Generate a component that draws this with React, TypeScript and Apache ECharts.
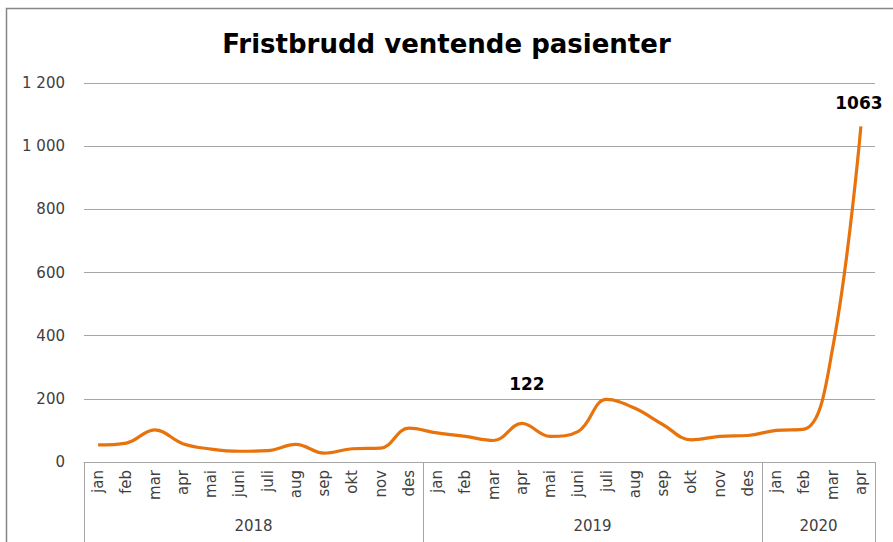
import React, { useEffect, useRef } from "react";
import * as echarts from "echarts";

const months = [
  "jan", "feb", "mar", "apr", "mai", "juni", "juli", "aug", "sep", "okt", "nov", "des",
  "jan", "feb", "mar", "apr", "mai", "juni", "juli", "aug", "sep", "okt", "nov", "des",
  "jan", "feb", "mar", "apr",
];
const values = [
  54, 60, 102, 58, 41, 34, 36, 56, 28, 42, 44, 107,
  92, 81, 68, 122, 81, 97, 198, 170, 118, 70, 81, 84,
  100, 104, 360, 1063,
];
const years = ["2018", "2019", "2020"];
const monthsPerYear = [12, 12, 4];
const labelledIndex = [15, 27];
const labelDistance = [30, 14];
const yTicks = [0, 200, 400, 600, 800, 1000, 1200];

const FONT = "DejaVu Sans";

export default function App() {
  const ref = useRef<HTMLDivElement>(null);
  useEffect(() => {
    if (!ref.current) return;
    const chart = echarts.init(ref.current, undefined, { renderer: "svg" });
    const bounds: number[] = [0];
    const centers: number[] = [];
    monthsPerYear.forEach((n) => {
      const start = bounds[bounds.length - 1];
      centers.push(start + n / 2);
      bounds.push(start + n);
    });
    const labelData = labelledIndex.map((i, k) => ({
      value: [i, values[i]],
      label: {
        show: true,
        position: "top",
        distance: labelDistance[k],
        offset: [k === 0 ? 5 : -2, 0],
        formatter: String(values[i]),
        fontFamily: FONT,
        fontWeight: "bold",
        fontSize: 17,
        color: "#000000",
        opacity: 1,
        textBorderWidth: 0,
      },
    }));
    chart.setOption({
      animation: false,
      backgroundColor: "#fff",
      title: {
        text: "Fristbrudd ventende pasienter",
        left: "center",
        top: 26,
        textStyle: { fontFamily: FONT, fontWeight: "bold", fontSize: 26, color: "#000" },
      },
      graphic: [
        {
          type: "rect",
          shape: { x: 6.5, y: 8.5, width: 1000, height: 1000 },
          style: { fill: "none", stroke: "#868686", lineWidth: 1.5 },
          silent: true,
        },
      ],
      grid: { left: 84, right: 18, top: 83, bottom: 80, containLabel: false },
      xAxis: [
        {
          type: "category",
          data: months,
          boundaryGap: true,
          position: "bottom",
          axisLine: { show: true, lineStyle: { color: "#a6a6a6", width: 1 } },
          axisTick: { show: false },
          axisLabel: {
            interval: 0,
            rotate: 90,
            margin: 8,
            fontFamily: FONT,
            fontSize: 15,
            color: "#404040",
          },
        },
        {
          type: "value",
          min: 0,
          max: months.length,
          position: "bottom",
          axisLine: { show: false },
          splitLine: { show: false },
          axisTick: {
            show: true,
            customValues: bounds,
            length: 80,
            lineStyle: { color: "#a6a6a6", width: 1 },
          },
          axisLabel: {
            show: true,
            customValues: centers,
            margin: 56,
            fontFamily: FONT,
            fontSize: 15,
            color: "#404040",
            formatter: (v: number) => {
              const idx = centers.indexOf(v);
              return idx >= 0 ? years[idx] : "";
            },
          },
        },
      ],
      yAxis: {
        type: "value",
        min: yTicks[0],
        max: yTicks[yTicks.length - 1],
        interval: 200,
        axisLine: { show: false },
        axisTick: { show: false },
        splitLine: { lineStyle: { color: "#a6a6a6", width: 1 } },
        axisLabel: {
          margin: 19,
          fontFamily: FONT,
          fontSize: 15,
          color: "#404040",
          formatter: (v: number) => String(v).replace(/\B(?=(\d{3})+(?!\d))/g, " "),
        },
      },
      series: [
        {
          type: "line",
          xAxisIndex: 0,
          data: values,
          smooth: 0.4,
          symbol: "none",
          lineStyle: { color: "#E8720C", width: 3.2 },
          itemStyle: { color: "#E8720C" },
        },
        {
          type: "scatter",
          xAxisIndex: 0,
          data: labelData,
          symbolSize: 1,
          itemStyle: { color: "rgba(0,0,0,0)" },
          z: 5,
        },
      ],
    });
    return () => chart.dispose();
  }, []);
  return (
    <div
      ref={ref}
      style={{ position: "absolute", left: 0, top: 0, width: 893, height: 542 }}
    />
  );
}
